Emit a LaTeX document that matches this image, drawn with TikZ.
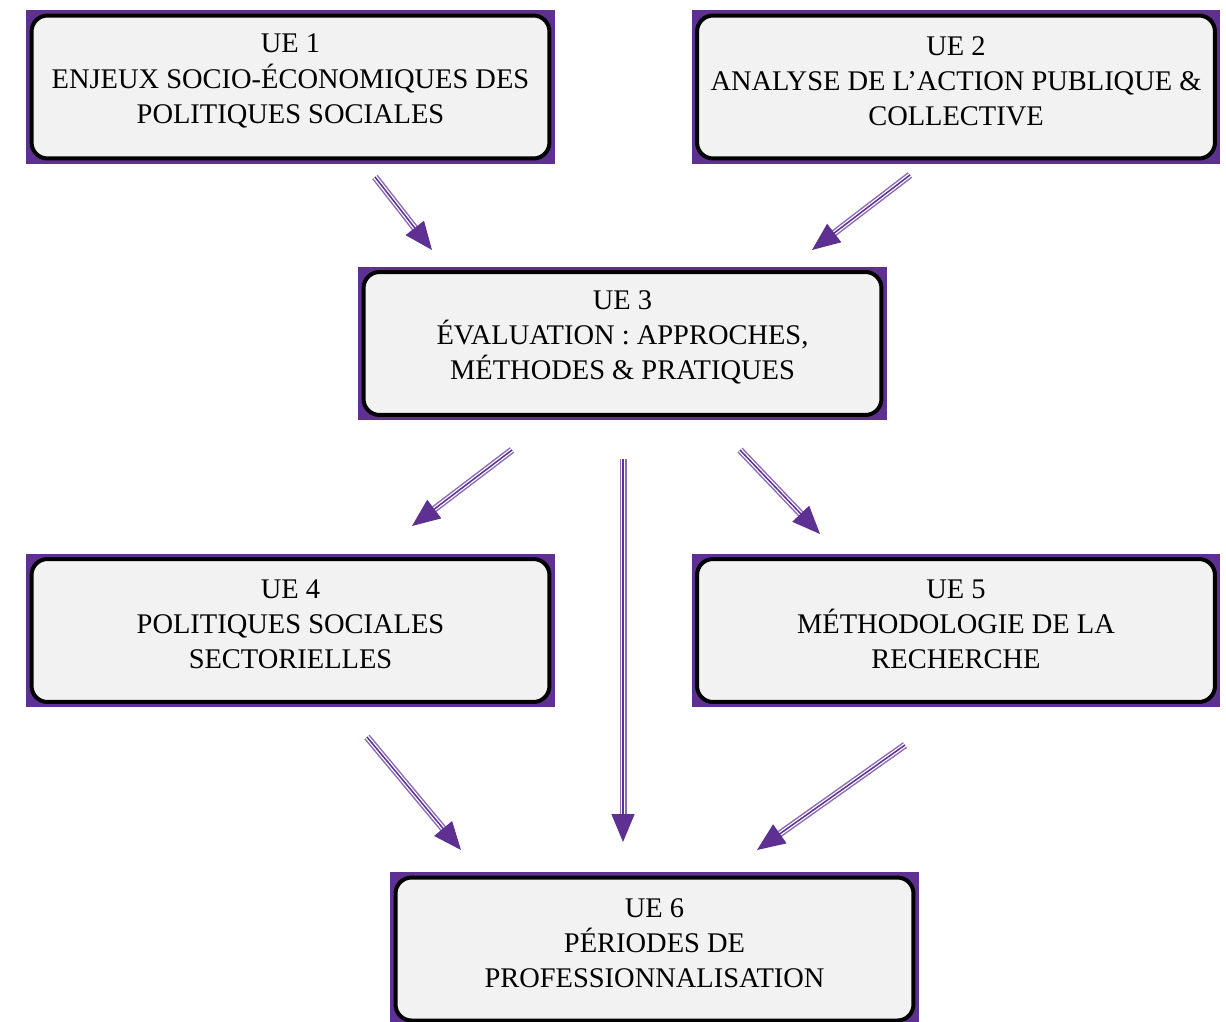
\documentclass[tikz,border=0pt]{standalone}
\usepackage{fontspec}
\setmainfont{Liberation Serif}
\usetikzlibrary{arrows.meta}
\definecolor{uepurple}{RGB}{93,48,145}
\definecolor{uestripe}{RGB}{140,108,182}
\definecolor{uegray}{RGB}{242,242,242}

\begin{document}
\begin{tikzpicture}[x=0.02cm, y=-0.02cm,
    frame/.style = {fill = uepurple, minimum width = 10.58cm, minimum height = 3.08cm, inner sep = 0pt},
    box/.style = {draw = black, fill = uegray, line width = 0.08cm, rounded corners = 0.32cm,
                  minimum width = 10.36cm, minimum height = 2.86cm, inner sep = 0pt},
    label/.style = {align = center, yshift = 0.12cm, font = \fontsize{16.2}{20}\selectfont},
    arr/.style = {draw = uepurple, line width = 0.03cm,
                  preaction = {arrows = -, draw = uestripe, line width = 0.14cm, shorten > = 0.4cm},
                  preaction = {arrows = -, draw = white, line width = 0.08cm, shorten > = 0.4cm},
                  -{Triangle[length = 0.56cm, width = 0.46cm]}}]
\useasboundingbox (0,0) rectangle (1226,1021);

% boxes
\node[frame] (f1) at (290.5,87) {};
\node[frame] (f2) at (956,87) {};
\node[frame] (f3) at (622.5,343.5) {};
\node[frame] (f4) at (290.5,630.5) {};
\node[frame] (f5) at (956,630.5) {};
\node[frame] (f6) at (654.5,949) {};

\foreach \n in {1,...,6}
    \node[box] (ue\n) at (f\n) {};

\node[label] (t1) at (ue1) {UE 1\\ENJEUX SOCIO-ÉCONOMIQUES DES\\POLITIQUES SOCIALES};
\node[label] (t2) at (ue2) {UE 2\\ANALYSE DE L’ACTION PUBLIQUE \&\\COLLECTIVE};
\node[label] (t3) at (ue3) {UE 3\\ÉVALUATION : APPROCHES,\\MÉTHODES \& PRATIQUES};
\node[label] (t4) at (ue4) {UE 4\\POLITIQUES SOCIALES\\SECTORIELLES};
\node[label] (t5) at (ue5) {UE 5\\MÉTHODOLOGIE DE LA\\RECHERCHE};
\node[label] (t6) at (ue6) {UE 6\\PÉRIODES DE\\PROFESSIONNALISATION};

% arrow ends
\coordinate (a1s) at (375,177);  \coordinate (a1e) at (432,250);
\coordinate (a2s) at (910,175);  \coordinate (a2e) at (812,250);
\coordinate (a3s) at (512,450);  \coordinate (a3e) at (412,526);
\coordinate (a4s) at (623,459);  \coordinate (a4e) at (623,842);
\coordinate (a5s) at (740,450);  \coordinate (a5e) at (820,534);
\coordinate (a6s) at (367,737);  \coordinate (a6e) at (461,850);
\coordinate (a7s) at (905,745);  \coordinate (a7e) at (757,850);

\foreach \a in {1,...,7}
    \draw[arr] (a\a s) -- (a\a e);

\end{tikzpicture}
\end{document}
